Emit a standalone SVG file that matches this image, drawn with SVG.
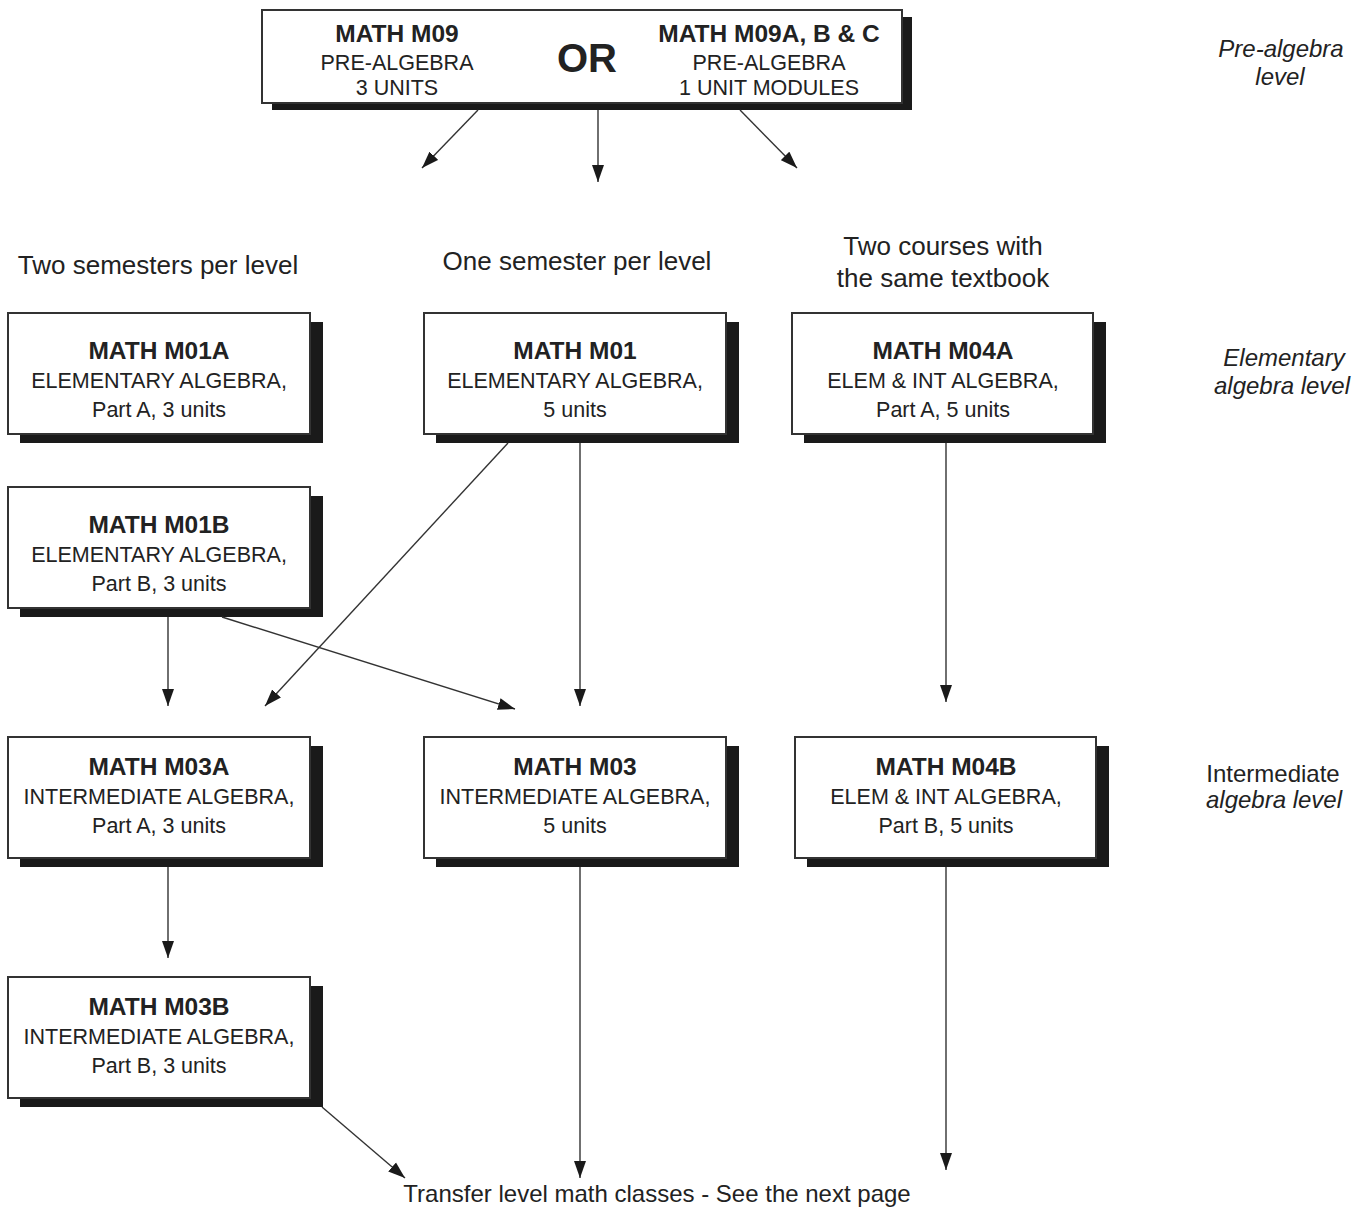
<svg xmlns="http://www.w3.org/2000/svg" width="1369" height="1228" viewBox="0 0 1369 1228">
<style>
text{font-family:"Liberation Sans",Arial,Helvetica,sans-serif;fill:#222;text-anchor:middle}
.t{font-weight:bold;font-size:24.5px}
.b{font-size:21.5px}
.h{font-size:26px}
.r{font-size:24px;font-style:italic}
.rn{font-size:24px}
.tr{font-size:24px}
.or{font-weight:bold;font-size:40px}
.box{fill:#fff;stroke:#333;stroke-width:2}
.sh{fill:#1a1a1a}
.c{stroke:#333;stroke-width:1.4;fill:none;marker-end:url(#ah)}
</style>
<defs>
<marker id="ah" markerUnits="userSpaceOnUse" markerWidth="18" markerHeight="13" refX="17" refY="6.5" orient="auto">
<path d="M0,0.5 L17,6.5 L0,12.5 z" fill="#1a1a1a"/>
</marker>
</defs>
<rect width="1369" height="1228" fill="#fff"/>

<g id="pre">
<rect class="sh" x="272" y="17" width="640" height="93"/>
<rect class="box" x="262" y="10" width="640" height="93"/>
<text class="t" x="397" y="42">MATH M09</text>
<text class="b" x="397" y="70">PRE-ALGEBRA</text>
<text class="b" x="397" y="95">3 UNITS</text>
<text class="or" x="587" y="72">OR</text>
<text class="t" x="769" y="42">MATH M09A, B &amp; C</text>
<text class="b" x="769" y="70">PRE-ALGEBRA</text>
<text class="b" x="769" y="95">1 UNIT MODULES</text>
</g>

<g id="labels">
<text class="r" x="1281" y="57">Pre-algebra</text>
<text class="r" x="1280" y="85">level</text>
<text class="r" x="1284" y="366">Elementary</text>
<text class="r" x="1282" y="394">algebra level</text>
<text class="rn" x="1273" y="782">Intermediate</text>
<text class="r" x="1274" y="808">algebra level</text>
<text class="h" x="158" y="274">Two semesters per level</text>
<text class="h" x="577" y="270">One semester per level</text>
<text class="h" x="943" y="255">Two courses with</text>
<text class="h" x="943" y="287">the same textbook</text>
<text class="tr" x="657" y="1202">Transfer level math classes - See the next page</text>
</g>

<g id="m01a">
<rect class="sh" x="20" y="322" width="303" height="121"/>
<rect class="box" x="8" y="313" width="302" height="121"/>
<text class="t" x="159" y="359">MATH M01A</text>
<text class="b" x="159" y="388">ELEMENTARY ALGEBRA,</text>
<text class="b" x="159" y="417">Part A, 3 units</text>
</g>
<g id="m01b">
<rect class="sh" x="20" y="496" width="303" height="121"/>
<rect class="box" x="8" y="487" width="302" height="121"/>
<text class="t" x="159" y="533">MATH M01B</text>
<text class="b" x="159" y="562">ELEMENTARY ALGEBRA,</text>
<text class="b" x="159" y="591">Part B, 3 units</text>
</g>
<g id="m01">
<rect class="sh" x="436" y="322" width="303" height="121"/>
<rect class="box" x="424" y="313" width="302" height="121"/>
<text class="t" x="575" y="359">MATH M01</text>
<text class="b" x="575" y="388">ELEMENTARY ALGEBRA,</text>
<text class="b" x="575" y="417">5 units</text>
</g>
<g id="m04a">
<rect class="sh" x="804" y="322" width="302" height="121"/>
<rect class="box" x="792" y="313" width="301" height="121"/>
<text class="t" x="943" y="359">MATH M04A</text>
<text class="b" x="943" y="388">ELEM &amp; INT ALGEBRA,</text>
<text class="b" x="943" y="417">Part A, 5 units</text>
</g>
<g id="m03a">
<rect class="sh" x="20" y="746" width="303" height="121"/>
<rect class="box" x="8" y="737" width="302" height="121"/>
<text class="t" x="159" y="775">MATH M03A</text>
<text class="b" x="159" y="804">INTERMEDIATE ALGEBRA,</text>
<text class="b" x="159" y="833">Part A, 3 units</text>
</g>
<g id="m03">
<rect class="sh" x="436" y="746" width="303" height="121"/>
<rect class="box" x="424" y="737" width="302" height="121"/>
<text class="t" x="575" y="775">MATH M03</text>
<text class="b" x="575" y="804">INTERMEDIATE ALGEBRA,</text>
<text class="b" x="575" y="833">5 units</text>
</g>
<g id="m04b">
<rect class="sh" x="807" y="746" width="302" height="121"/>
<rect class="box" x="795" y="737" width="301" height="121"/>
<text class="t" x="946" y="775">MATH M04B</text>
<text class="b" x="946" y="804">ELEM &amp; INT ALGEBRA,</text>
<text class="b" x="946" y="833">Part B, 5 units</text>
</g>
<g id="m03b">
<rect class="sh" x="20" y="986" width="303" height="121"/>
<rect class="box" x="8" y="977" width="302" height="121"/>
<text class="t" x="159" y="1015">MATH M03B</text>
<text class="b" x="159" y="1044">INTERMEDIATE ALGEBRA,</text>
<text class="b" x="159" y="1073">Part B, 3 units</text>
</g>

<g id="connectors">
<line class="c" x1="478" y1="110" x2="422" y2="168"/>
<line class="c" x1="598" y1="110" x2="598" y2="182"/>
<line class="c" x1="740" y1="110" x2="797" y2="168"/>
<line class="c" x1="168" y1="617" x2="168" y2="706"/>
<line class="c" x1="508" y1="443" x2="265" y2="706"/>
<line class="c" x1="222" y1="617" x2="515" y2="709"/>
<line class="c" x1="580" y1="443" x2="580" y2="706"/>
<line class="c" x1="946" y1="443" x2="946" y2="702"/>
<line class="c" x1="168" y1="867" x2="168" y2="958"/>
<line class="c" x1="580" y1="867" x2="580" y2="1178"/>
<line class="c" x1="946" y1="867" x2="946" y2="1170"/>
<line class="c" x1="322" y1="1107" x2="405" y2="1178"/>
</g>
</svg>
